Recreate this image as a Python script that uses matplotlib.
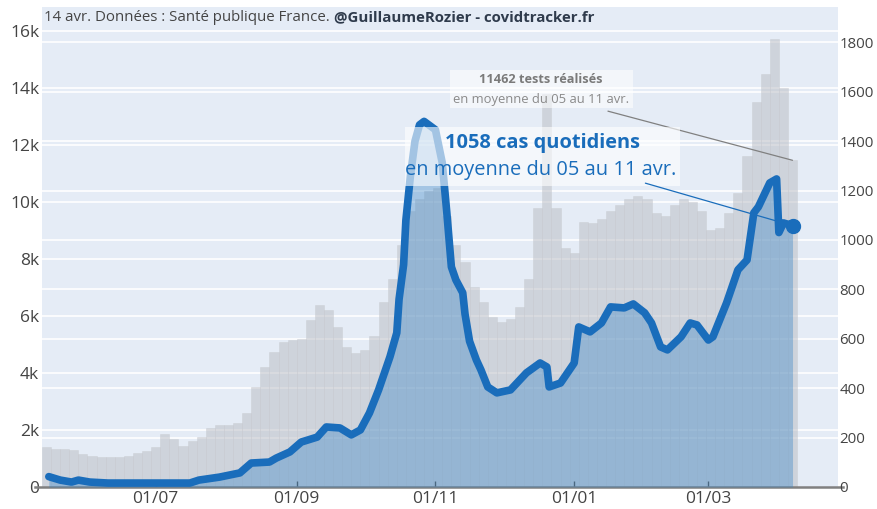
import numpy as np
import pandas as pd
import matplotlib
matplotlib.use('Agg')
import matplotlib.pyplot as plt
import matplotlib.dates as mdates
from matplotlib.patches import Rectangle
from matplotlib.lines import Line2D

plt.rcParams['font.family'] = ['Open Sans', 'DejaVu Sans']

# tests réalisés (grey bars, left axis), one value every 4 days
test_dates = pd.date_range('2020-05-14', periods=83, freq='4D')
tests = [1400, 1350, 1350, 1300, 1150, 1080, 1050, 1050, 1050, 1100,
         1200, 1280, 1400, 1850, 1700, 1450, 1600, 1750, 2070, 2180,
         2180, 2250, 2600, 3500, 4200, 4750, 5100, 5150, 5200, 5850,
         6400, 6200, 5600, 4900, 4700, 4800, 5300, 6500, 7300, 8500,
         9700, 10100, 10400, 10500, 9500, 8500, 7900, 7000, 6500, 5950,
         5800, 5900, 6300, 7300, 9800, 13800, 9800, 8400, 8200, 9300,
         9250, 9400, 9700, 9900, 10100, 10200, 10100, 9600, 9500, 9900,
         10100, 10000, 9700, 9000, 9100, 9600, 10300, 11600, 13500, 14500,
         15700, 14000, 11462]

# cas quotidiens, moyenne 7 jours (blue line, right axis)
case_dates = pd.to_datetime([
    '2020-05-15', '2020-05-20', '2020-05-25', '2020-05-28', '2020-06-02',
    '2020-06-10', '2020-07-16', '2020-07-20', '2020-07-29', '2020-08-07',
    '2020-08-12', '2020-08-20', '2020-08-23', '2020-08-29', '2020-09-03',
    '2020-09-10', '2020-09-14', '2020-09-20', '2020-09-25', '2020-09-29',
    '2020-10-03', '2020-10-07', '2020-10-12', '2020-10-15', '2020-10-16',
    '2020-10-18', '2020-10-19', '2020-10-20', '2020-10-21', '2020-10-23',
    '2020-10-25', '2020-10-27', '2020-11-01', '2020-11-04', '2020-11-06',
    '2020-11-08', '2020-11-10', '2020-11-13', '2020-11-14', '2020-11-16',
    '2020-11-19', '2020-11-21', '2020-11-24', '2020-11-28', '2020-12-04',
    '2020-12-11', '2020-12-17', '2020-12-20', '2020-12-21', '2020-12-26',
    '2021-01-01', '2021-01-03', '2021-01-08', '2021-01-13', '2021-01-17',
    '2021-01-23', '2021-01-27', '2021-02-01', '2021-02-04', '2021-02-08',
    '2021-02-11', '2021-02-17', '2021-02-21', '2021-02-24', '2021-03-01',
    '2021-03-03', '2021-03-09', '2021-03-14', '2021-03-18', '2021-03-21',
    '2021-03-23', '2021-03-28', '2021-03-31', '2021-04-01', '2021-04-03',
    '2021-04-07'])
cases = [42, 28, 20, 28, 20,
         16, 16, 28, 40, 57,
         97, 101, 117, 142, 182,
         202, 243, 239, 211, 231,
         300, 393, 527, 624, 760,
         900, 1080, 1170, 1260, 1400,
         1466, 1480, 1446, 1312, 1110,
         891, 838, 786, 700, 590,
         514, 474, 405, 381, 393,
         462, 502, 486, 405, 421,
         502, 648, 628, 664, 729,
         725, 741, 705, 664, 567,
         555, 608, 664, 656, 595,
         608, 745, 879, 919, 1110,
         1134, 1231, 1247, 1030, 1069,
         1058]

left_ticks = [0, 2000, 4000, 6000, 8000, 10000, 12000, 14000, 16000]
left_labels = ['0', '2k', '4k', '6k', '8k', '10k', '12k', '14k', '16k']
right_ticks = [0, 200, 400, 600, 800, 1000, 1200, 1400, 1600, 1800]

blue = '#1a6dbb'
txt = '#444444'
ymax_left = 16840
ymax_right = 1943

fig = plt.figure(figsize=(8.77, 5.09), dpi=100)
ax = fig.add_axes([42 / 877, 22 / 509, 796 / 877, 480 / 509])
ax.set_facecolor('#e5ecf6')
ax2 = ax.twinx()

# grid lines for both axes, under the bars
for v in left_ticks[1:]:
    ax.axhline(v, color='white', lw=1.2, zorder=0)
for v in right_ticks[1:]:
    ax.axhline(v * ymax_left / ymax_right, color='white', lw=1.2, zorder=0)

ax.bar(test_dates, tests, width=4, color='#b8bbc2', alpha=0.5,
       edgecolor='#c9ccd2', linewidth=0.6, zorder=1)

ax2.fill_between(case_dates, cases, color='#3a86c8', alpha=0.38, lw=0)
ax2.plot(case_dates, cases, color=blue, lw=5.5, solid_joinstyle='round',
         solid_capstyle='round')
ax2.plot(case_dates[-1], cases[-1], 'o', color=blue, ms=10)

ax.set_ylim(0, ymax_left)
ax2.set_ylim(0, ymax_right)
ax.set_xlim(pd.Timestamp('2020-05-12'), pd.Timestamp('2021-04-27'))

ax.set_yticks(left_ticks)
ax.set_yticklabels(left_labels)
ax2.set_yticks(right_ticks)
ax.tick_params(axis='y', length=0, pad=2, labelsize=12.5, labelcolor=txt)
ax2.tick_params(axis='y', length=0, pad=1, labelsize=10.8, labelcolor=txt)

ax.xaxis.set_major_locator(mdates.MonthLocator(bymonth=[1, 3, 7, 9, 11]))
ax.xaxis.set_major_formatter(mdates.DateFormatter('%d/%m'))
ax.tick_params(axis='x', direction='in', length=4, width=1, color='#555555',
               pad=3, labelsize=12.5, labelcolor=txt)

for a in (ax, ax2):
    for s in a.spines.values():
        s.set_visible(False)
ax.add_line(Line2D([-0.009, 1.006], [0, 0], transform=ax.transAxes,
                   color='#808080', lw=1.8, clip_on=False, zorder=5))

# header
t1 = ax2.text(0.003, 0.979, '14 avr. Données : Santé publique France. ',
              transform=ax2.transAxes, fontsize=10.8, color=txt,
              ha='left', va='center')
ax2.annotate('@GuillaumeRozier - covidtracker.fr', xy=(1, 0.5), xycoords=t1,
             fontsize=10.8, fontweight='bold', color='#2f3b4c',
             ha='left', va='center')

# tests annotation
ax2.add_patch(Rectangle((0.512, 0.790), 0.230, 0.078, transform=ax2.transAxes,
                        fc='white', ec='none', alpha=0.55, zorder=6))
ax2.text(0.627, 0.848, '11462 tests réalisés', transform=ax2.transAxes,
         fontsize=9.2, fontweight='bold', color='#7a7a7a',
         ha='center', va='center', zorder=7)
ax2.text(0.627, 0.808, 'en moyenne du 05 au 11 avr.', transform=ax2.transAxes,
         fontsize=9.4, color='#8a8a8a', ha='center', va='center', zorder=7)
ax.annotate('', xy=(test_dates[-1], tests[-1]), xycoords='data',
            xytext=(0.711, 0.783), textcoords='axes fraction',
            arrowprops=dict(arrowstyle='-', color='#808080', lw=0.9,
                            shrinkA=0, shrinkB=0))

# cases annotation
ax2.add_patch(Rectangle((0.456, 0.627), 0.345, 0.123, transform=ax2.transAxes,
                        fc='white', ec='none', alpha=0.6, zorder=6))
ax2.text(0.629, 0.717, '1058 cas quotidiens', transform=ax2.transAxes,
         fontsize=14.4, fontweight='bold', color=blue,
         ha='center', va='center', zorder=7)
ax2.text(0.626, 0.660, 'en moyenne du 05 au 11 avr.', transform=ax2.transAxes,
         fontsize=14.4, color=blue, ha='center', va='center', zorder=7)
ax2.annotate('', xy=(case_dates[-1], cases[-1]), xycoords='data',
             xytext=(0.758, 0.633), textcoords='axes fraction',
             arrowprops=dict(arrowstyle='-', color=blue, lw=0.9,
                             shrinkA=0, shrinkB=4), zorder=7)

fig.savefig('out.png', dpi=100)
